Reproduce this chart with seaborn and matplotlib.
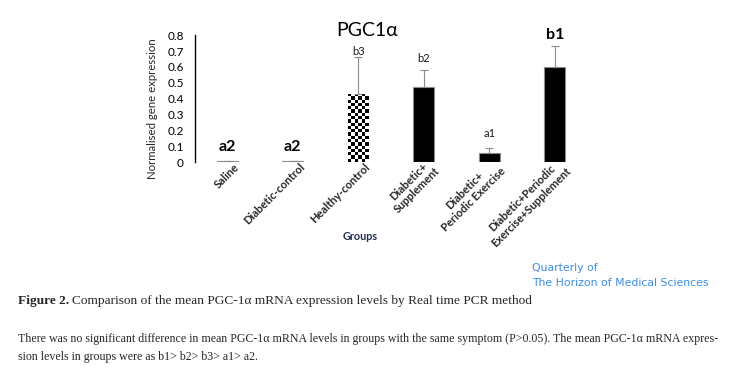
import matplotlib
matplotlib.use("Agg")
import matplotlib.pyplot as plt
import matplotlib.transforms as mtransforms
import numpy as np
import pandas as pd
import seaborn as sns

# values
groups = ["Saline", "Diabetic-control", "Healthy-control", "Diabetic+\nSupplement",
          "Diabetic+\nPeriodic Exercise", "Diabetic+Periodic\nExercise+Supplement"]
means = [0.004, 0.004, 0.43, 0.475, 0.055, 0.597]
errors = [0.0, 0.0, 0.23, 0.105, 0.031, 0.137]
letters = ["a2", "a2", "b3", "b2", "a1", "b1"]
letter_y = [0.095, 0.095, 0.70, 0.655, 0.18, 0.80]
letter_bold = [True, True, False, False, False, True]
yticks = [0, 0.1, 0.2, 0.3, 0.4, 0.5, 0.6, 0.7, 0.8]

df = pd.DataFrame({"group": groups, "mean": means})

sns.set_style("white")
plt.rcParams["font.family"] = ["Lato", "DejaVu Sans"]

fig = plt.figure(figsize=(7.3, 3.72), dpi=100)
ax = fig.add_axes([0.267, 0.5645, 0.538, 0.341])

sns.barplot(data=df, x="group", y="mean", color="black", width=0.32,
            edgecolor="#8c8c8c", linewidth=0.8, saturation=1, ax=ax)

# one-sided error bars
xpos = np.arange(len(groups))
ax.errorbar(xpos, means, yerr=[np.zeros(len(errors)), errors], fmt="none",
            ecolor="#8c8c8c", elinewidth=0.8, capsize=3, capthick=0.8)

# checkerboard fill for Healthy-control bar
patch = ax.patches[2]
patch.set_facecolor("white")
patch.set_edgecolor("none")
x0, y0 = patch.get_x(), patch.get_y()
w, h = patch.get_width(), patch.get_height()
ncol = 6
nrow = 21
checker = (np.indices((nrow, ncol)).sum(axis=0) % 2).astype(float)
img = ax.imshow(checker, cmap="gray", extent=(x0, x0 + w, y0, y0 + h),
                aspect="auto", interpolation="nearest", zorder=patch.get_zorder())
img.set_clip_path(patch)

# significance letters
for i, (lab, ly, b) in enumerate(zip(letters, letter_y, letter_bold)):
    if b:
        ax.text(i, ly, lab, ha="center", va="center", fontsize=11.5,
                fontweight="bold", color="black")
    else:
        ax.text(i, ly, lab, ha="center", va="center", fontsize=8, color="#1a1a1a")

ax.set_xlim(-0.49, 5.5)
ax.set_ylim(0, 0.8)
ax.set_yticks(yticks)
ax.set_yticklabels(["0" if t == 0 else f"{t:.1f}" for t in yticks])
ax.tick_params(axis="y", length=0, pad=8, labelsize=8.5, colors="black")
ax.tick_params(axis="x", length=0, pad=0)

for s in ["top", "right", "bottom"]:
    ax.spines[s].set_visible(False)
ax.spines["left"].set_color("black")
ax.spines["left"].set_linewidth(1)

offset = mtransforms.ScaledTranslation(0.1, -0.03, fig.dpi_scale_trans)
ax.set_xticks(xpos)
ax.set_xticklabels(groups)
for lbl in ax.get_xticklabels():
    lbl.set_rotation(45)
    lbl.set_ha("right")
    lbl.set_va("center")
    lbl.set_rotation_mode("anchor")
    lbl.set_multialignment("center")
    lbl.set_fontweight("bold")
    lbl.set_fontsize(8)
    lbl.set_linespacing(1.2)
    lbl.set_transform(lbl.get_transform() + offset)

ax.set_xlabel("")
ax.set_ylabel("Normalised gene expression", fontsize=8.2, color="#262626")
ax.yaxis.set_label_coords(-0.094, 0.417)

fig.text(367 / 730, 1 - 30 / 372, "PGC1α", ha="center", va="center", fontsize=14,
         color="black")
fig.text(360 / 730, 1 - 237 / 372, "Groups", ha="center", va="center", fontsize=7.8,
         fontweight="bold", color="#1f2d50")

# journal watermark
fig.text(532 / 730, 1 - 268 / 372, "Quarterly of", ha="left", va="center",
         fontsize=7.8, color="#3a8ee6", family="DejaVu Sans")
fig.text(532 / 730, 1 - 283 / 372, "The Horizon of Medical Sciences", ha="left",
         va="center", fontsize=7.8, color="#3a8ee6", family="DejaVu Sans")

# caption
serif = "Liberation Serif"
cap = fig.text(18 / 730, 1 - 301 / 372, "Figure 2.", ha="left", va="center",
               fontsize=9.6, fontweight="bold", family=serif)
fig.canvas.draw()
bb = cap.get_window_extent()
fig.text(bb.x1 / 730 + 0.004, 1 - 301 / 372,
         "Comparison of the mean PGC-1α mRNA expression levels by Real time PCR method",
         ha="left", va="center", fontsize=9.6, family=serif)
fig.text(18 / 730, 1 - 339 / 372,
         "There was no significant difference in mean PGC-1α mRNA levels in groups with the same "
         "symptom (P>0.05). The mean PGC-1α mRNA expres-",
         ha="left", va="center", fontsize=8.55, family=serif)
fig.text(18 / 730, 1 - 357 / 372,
         "sion levels in groups were as b1> b2> b3> a1> a2.",
         ha="left", va="center", fontsize=8.55, family=serif)

fig.savefig("out.png", dpi=100)
